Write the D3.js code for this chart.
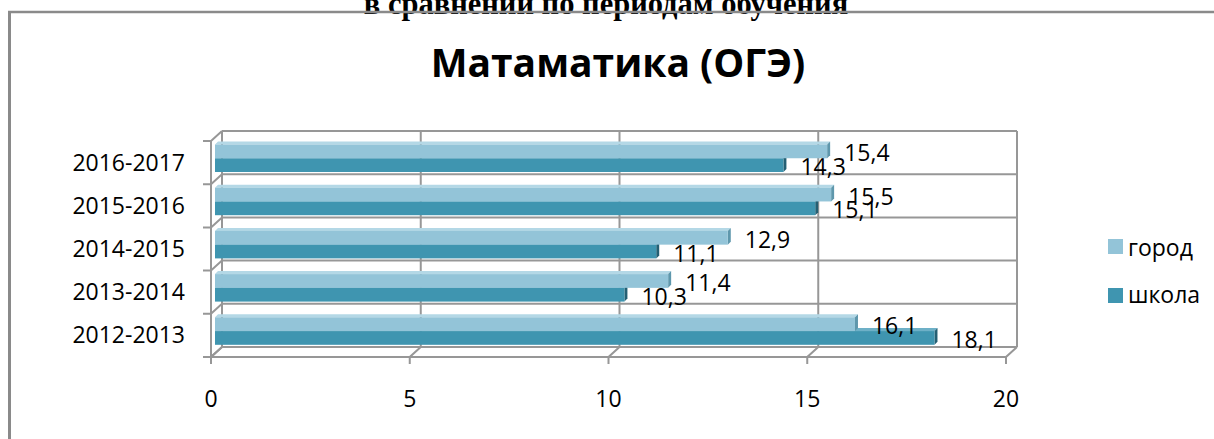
<!DOCTYPE html>
<html><head><meta charset="utf-8">
<script src="https://cdn.jsdelivr.net/npm/d3@7"></script>
<style>html,body{margin:0;padding:0;background:#fff;overflow:hidden}</style>
</head><body>
<svg id="c" width="1214" height="439"></svg>
<script>
const categories = ["2012-2013","2013-2014","2014-2015","2015-2016","2016-2017"];
const seriesNames = ["город","школа"];
const cityValues = [16.1, 11.4, 12.9, 15.5, 15.4];
const schoolValues = [18.1, 10.3, 11.1, 15.1, 14.3];
const xTicks = [0,5,10,15,20];
const valueLabels = v => String(v).replace(".", ",");

const svg = d3.select("#c");
const W = 1214, H = 439;
svg.append("rect").attr("width",W).attr("height",H).attr("fill","#fff");

// clipped upper text
svg.append("text").attr("x",606).attr("y",14).attr("text-anchor","middle")
  .attr("font-family","Liberation Serif").attr("font-weight","bold").attr("font-size",30.5)
  .text("в сравнении по периодам обучения");

// chart border
svg.append("line").attr("x1",8).attr("x2",W+5).attr("y1",12).attr("y2",12).attr("stroke","#8a8a8a").attr("stroke-width",2.5);
svg.append("line").attr("x1",9.5).attr("x2",9.5).attr("y1",11).attr("y2",H+5).attr("stroke","#8a8a8a").attr("stroke-width",3);

// title
svg.append("text").attr("x",618).attr("y",77).attr("text-anchor","middle")
  .attr("font-family","Open Sans").attr("font-weight","bold").attr("font-size",39)
  .text("Матаматика (ОГЭ)");

const DX = 11, DY = -10;
const x = d3.scaleLinear().domain([0,20]).range([211,1006]);
const cats = categories.slice().reverse(); // top to bottom
const yBack = d3.scaleBand().domain(cats).range([131,347]).padding(0);
const backTop = 131, backBottom = 347;
const grid = "#979797";
const g = svg.append("g");

g.selectAll(".vg").data(xTicks).join("line")
  .attr("x1",d=>x(d)+DX).attr("x2",d=>x(d)+DX)
  .attr("y1",backTop).attr("y2",backBottom)
  .attr("stroke",grid).attr("stroke-width",2);
const bounds = cats.map(c=>yBack(c)).concat([backBottom]);
g.selectAll(".hg").data(bounds).join("line")
  .attr("x1",x(0)+DX).attr("x2",x(20)+DX)
  .attr("y1",d=>d).attr("y2",d=>d)
  .attr("stroke",grid).attr("stroke-width",2);
g.append("line").attr("x1",x(0)).attr("x2",x(0)).attr("y1",backTop-DY).attr("y2",backBottom-DY+7)
  .attr("stroke",grid).attr("stroke-width",2);
g.selectAll(".ld").data(bounds).join("path")
  .attr("d",d=>`M${x(0)-8},${d-DY}L${x(0)},${d-DY}L${x(0)+DX},${d}`)
  .attr("fill","none").attr("stroke",grid).attr("stroke-width",2);
g.append("line").attr("x1",x(0)).attr("x2",x(20)).attr("y1",backBottom-DY).attr("y2",backBottom-DY)
  .attr("stroke",grid).attr("stroke-width",2);
g.selectAll(".fd").data(xTicks).join("path")
  .attr("d",d=>`M${x(d)},${backBottom-DY+7}L${x(d)},${backBottom-DY}L${x(d)+DX},${backBottom}`)
  .attr("fill","none").attr("stroke",grid).attr("stroke-width",2);

svg.selectAll(".xl").data(xTicks).join("text")
  .attr("x",d=>x(d)).attr("y",407).attr("text-anchor","middle")
  .attr("font-family","Open Sans").attr("font-size",23).attr("fill","#000")
  .text(d=>d);
svg.selectAll(".cl").data(cats).join("text")
  .attr("x",185).attr("y",d=>yBack(d)-DY+yBack.bandwidth()/2+8).attr("text-anchor","end")
  .attr("font-family","Open Sans").attr("font-size",23).attr("fill","#000")
  .text(d=>d);

const BX = 4, BY = -4;
const bd = 3;
const sub = d3.scaleBand().domain(seriesNames).range([7.5,35]).padding(0);
const colors = {
  "город": {front:"#93C4D8", top:"#B4D8E6", side:"#5E97AC"},
  "школа": {front:"#3F95B0", top:"#6DB0C7", side:"#245F73"}
};
const barData = [];
categories.forEach((c,i)=>{
  barData.push({cat:c, s:"школа", v:schoolValues[i]});
  barData.push({cat:c, s:"город", v:cityValues[i]});
});
const bars = g.selectAll(".bar").data(barData).join("g");
bars.each(function(d){
  const sel = d3.select(this);
  const top = yBack(d.cat) - DY + BY + sub(d.s);
  const h = sub.bandwidth();
  const x0 = x(0)+BX, x1 = x(d.v)+BX;
  const c = colors[d.s];
  sel.append("path").attr("d",`M${x0},${top}L${x0+bd},${top-bd}L${x1+bd},${top-bd}L${x1},${top}Z`).attr("fill",c.top);
  sel.append("path").attr("d",`M${x1},${top}L${x1+bd},${top-bd}L${x1+bd},${top+h-bd}L${x1},${top+h}Z`).attr("fill",c.side);
  sel.append("rect").attr("x",x0).attr("y",top).attr("width",x1-x0).attr("height",h).attr("fill",c.front);
  sel.append("text").attr("x",x(d.v)+21).attr("y",top+h/2+10)
    .attr("font-family","Open Sans").attr("font-size",23).attr("fill","#000")
    .text(valueLabels(d.v));
});

const lg = svg.append("g");
seriesNames.forEach((s,i)=>{
  lg.append("rect").attr("x",1108).attr("y",239+i*49).attr("width",15).attr("height",15).attr("fill",colors[s].front);
  lg.append("text").attr("x",1128).attr("y",256+i*47).attr("font-family","Open Sans").attr("font-size",23).text(s);
});
</script>
</body></html>
